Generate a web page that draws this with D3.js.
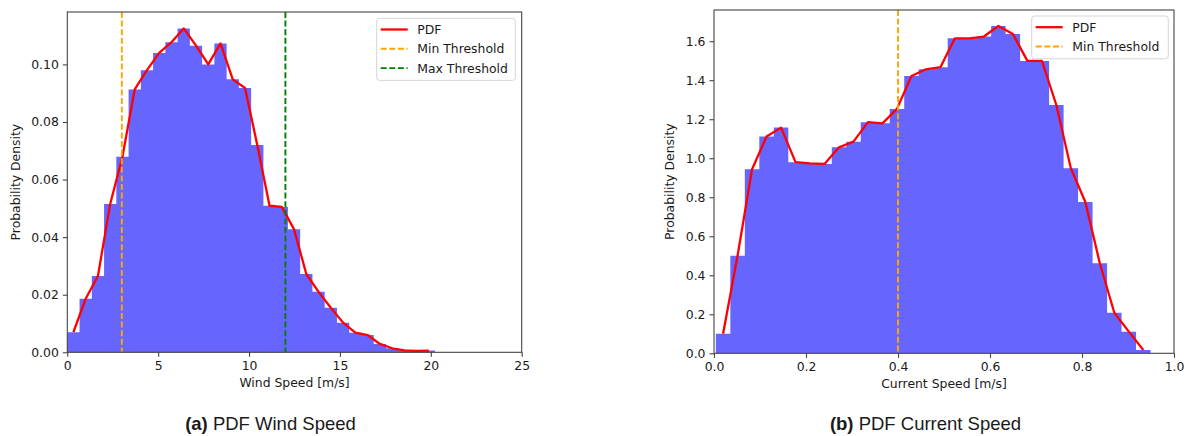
<!DOCTYPE html>
<html>
<head>
<meta charset="utf-8">
<script src="https://cdn.jsdelivr.net/npm/d3@7/dist/d3.min.js"></script>
<style>
  html, body { margin: 0; padding: 0; background: #fff; }
  svg { display: block; }
  text { font-family: "DejaVu Sans", sans-serif; fill: #1a1a1a; }
</style>
</head>
<body>
<svg id="chart" width="1191" height="436"></svg>
<script>
// ---------------- DATA ----------------
// Wind speed histogram (30 bins) – probability density per bin
const windBinRange = [0.0, 20.23];
const windDensity = [0.0070, 0.0186, 0.0265, 0.0515, 0.0679, 0.0913, 0.0980, 0.1040, 0.1077, 0.1125,
                     0.1065, 0.1000, 0.1073, 0.0948, 0.0918, 0.0720, 0.0509, 0.0505, 0.0427, 0.0272,
                     0.0210, 0.0155, 0.0103, 0.0068, 0.0060, 0.0029, 0.0014, 0.0007, 0.0005, 0.0006];
const windThresholds = [3, 12];
const windXTicks = [0, 5, 10, 15, 20, 25];
const windYTicks = [0.00, 0.02, 0.04, 0.06, 0.08, 0.10];

// Current speed histogram (30 bins)
const currentBinRange = [0.004, 0.949];
const currentDensity = [0.100, 0.500, 0.944, 1.111, 1.157, 0.980, 0.974, 0.971, 1.056, 1.085,
                        1.185, 1.179, 1.253, 1.422, 1.456, 1.467, 1.615, 1.615, 1.624, 1.678,
                        1.637, 1.499, 1.499, 1.273, 0.949, 0.776, 0.4615, 0.208, 0.111, 0.017];
const currentThresholds = [0.4];
const currentXTicks = [0.0, 0.2, 0.4, 0.6, 0.8, 1.0];
const currentYTicks = [0.0, 0.2, 0.4, 0.6, 0.8, 1.0, 1.2, 1.4, 1.6];

const legendWind = ["PDF", "Min Threshold", "Max Threshold"];
const legendCurrent = ["PDF", "Min Threshold"];

// ---------------- DRAW ----------------
const svg = d3.select("#chart");
const BAR = "rgb(102,102,255)";
const SPINE = "#444";
const FS = 12.4;

function panel(cfg) {
  const g = svg.append("g");
  const x = d3.scaleLinear().domain(cfg.xDomain).range([cfg.left, cfg.right]);
  const y = d3.scaleLinear().domain(cfg.yDomain).range([cfg.bottom, cfg.top]);
  const n = cfg.density.length;
  const w = (cfg.binRange[1] - cfg.binRange[0]) / n;
  const bins = cfg.density.map((d, i) => ({
    x0: cfg.binRange[0] + i * w,
    x1: cfg.binRange[0] + (i + 1) * w,
    v: d
  }));

  // histogram as one stepped area path so there are no seams between bars
  const area = d3.area()
    .x(d => x(d.x))
    .y0(y(0))
    .y1(d => y(d.v))
    .curve(d3.curveStepAfter);
  const stepPts = bins.map(b => ({ x: b.x0, v: b.v }))
    .concat([{ x: bins[n - 1].x1, v: bins[n - 1].v }]);
  g.append("path").datum(stepPts)
    .attr("d", area)
    .attr("fill", BAR);

  const line = d3.line().x(d => x((d.x0 + d.x1) / 2)).y(d => y(d.v));
  g.append("path").datum(bins)
    .attr("d", line)
    .attr("fill", "none")
    .attr("stroke", "red")
    .attr("stroke-width", 2.3)
    .attr("stroke-linejoin", "round");

  cfg.thresholds.forEach((t, i) => {
    g.append("line")
      .attr("x1", x(t)).attr("x2", x(t))
      .attr("y1", cfg.top).attr("y2", cfg.bottom)
      .attr("stroke", cfg.thColors[i])
      .attr("stroke-width", 1.9)
      .attr("stroke-dasharray", "6,2.6");
  });

  // spines
  g.append("rect")
    .attr("x", cfg.left).attr("y", cfg.top)
    .attr("width", cfg.right - cfg.left).attr("height", cfg.bottom - cfg.top)
    .attr("fill", "none").attr("stroke", SPINE).attr("stroke-width", 1.1);

  // axes
  const xAxis = d3.axisBottom(x).tickValues(cfg.xTicks).tickFormat(d3.format(cfg.xFmt))
    .tickSize(4.5).tickPadding(4);
  const gx = g.append("g").attr("transform", `translate(0,${cfg.bottom})`).call(xAxis);
  const yAxis = d3.axisLeft(y).tickValues(cfg.yTicks).tickFormat(d3.format(cfg.yFmt))
    .tickSize(4.5).tickPadding(4);
  const gy = g.append("g").attr("transform", `translate(${cfg.left},0)`).call(yAxis);
  [gx, gy].forEach(a => {
    a.select(".domain").remove();
    a.selectAll(".tick line").attr("stroke", SPINE).attr("stroke-width", 1.1);
    a.selectAll(".tick text").attr("font-size", FS).attr("font-family", "DejaVu Sans").attr("fill", "#1a1a1a");
  });

  g.append("text")
    .attr("x", (cfg.left + cfg.right) / 2).attr("y", cfg.bottom + 35)
    .attr("text-anchor", "middle").attr("font-size", FS)
    .text(cfg.xLabel);
  g.append("text")
    .attr("transform", `translate(${cfg.yLabelX},${(cfg.top + cfg.bottom) / 2}) rotate(-90)`)
    .attr("text-anchor", "middle").attr("font-size", FS)
    .text(cfg.yLabel);

  // legend
  const L = cfg.legend;
  const lg = g.append("g");
  const rows = L.labels.length;
  const boxH = 11.3 + (rows - 1) * 19.3 + 12.2;
  lg.append("rect")
    .attr("x", L.x).attr("y", L.y)
    .attr("width", L.w).attr("height", boxH)
    .attr("rx", 3).attr("fill", "white").attr("fill-opacity", 0.8)
    .attr("stroke", "#d6d6d6").attr("stroke-width", 1);
  const colors = ["red"].concat(cfg.thColors);
  L.labels.forEach((lab, i) => {
    const yy = L.y + 11.2 + i * 19.3;
    lg.append("line")
      .attr("x1", L.x + 4).attr("x2", L.x + 31)
      .attr("y1", yy).attr("y2", yy)
      .attr("stroke", colors[i])
      .attr("stroke-width", i === 0 ? 2.3 : 1.9)
      .attr("stroke-dasharray", i === 0 ? null : "6,2.6");
    lg.append("text")
      .attr("x", L.x + 40.6).attr("y", yy + 4.4)
      .attr("font-size", FS)
      .text(lab);
  });

  // caption
  const cap = g.append("text")
    .attr("x", cfg.captionX).attr("y", 430)
    .attr("text-anchor", "middle")
    .attr("font-family", "Liberation Sans, Arial, sans-serif")
    .attr("font-size", 18.5).attr("fill", "#111");
  cap.append("tspan").attr("font-weight", "bold").attr("font-family", "Liberation Sans, Arial, sans-serif").text(cfg.captionBold);
  cap.append("tspan").attr("font-family", "Liberation Sans, Arial, sans-serif").text(cfg.caption);
}

panel({
  left: 67.3, right: 521.7, top: 12, bottom: 352.3,
  xDomain: [0, 25], yDomain: [0, 0.1182],
  binRange: windBinRange, density: windDensity,
  thresholds: windThresholds, thColors: ["orange", "green"],
  xTicks: windXTicks, yTicks: windYTicks, xFmt: "d", yFmt: ".2f",
  xLabel: "Wind Speed [m/s]", yLabel: "Probability Density", yLabelX: 20,
  legend: { x: 376.7, y: 18.3, w: 138.6, labels: legendWind },
  captionX: 270.5, captionBold: "(a)", caption: " PDF Wind Speed"
});

panel({
  left: 714, right: 1174, top: 10, bottom: 353.3,
  xDomain: [0, 1], yDomain: [0, 1.76],
  binRange: currentBinRange, density: currentDensity,
  thresholds: currentThresholds, thColors: ["orange"],
  xTicks: currentXTicks, yTicks: currentYTicks, xFmt: ".1f", yFmt: ".1f",
  xLabel: "Current Speed [m/s]", yLabel: "Probability Density", yLabelX: 674,
  legend: { x: 1031.7, y: 16, w: 136.6, labels: legendCurrent },
  captionX: 925.5, captionBold: "(b)", caption: " PDF Current Speed"
});
</script>
</body>
</html>
